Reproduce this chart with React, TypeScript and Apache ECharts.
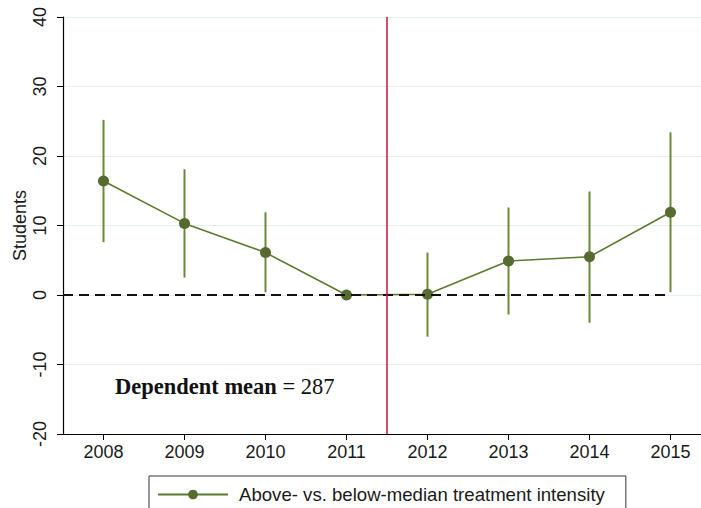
import React, { useEffect, useRef } from 'react';
import * as echarts from 'echarts';

// event-study estimates
const years = [2008, 2009, 2010, 2011, 2012, 2013, 2014, 2015];
const estimates = [16.4, 10.3, 6.1, 0, 0.1, 4.9, 5.5, 11.9];
const ciLow = [7.6, 2.5, 0.4, 0, -6.0, -2.8, -4.0, 0.4];
const ciHigh = [25.2, 18.1, 11.9, 0, 6.1, 12.6, 14.9, 23.4];
const yTicks = [-20, -10, 0, 10, 20, 30, 40];
const treatmentBreak = 2011.5;
const seriesName = 'Above- vs. below-median treatment intensity';
const dependentMean = 287;

const SANS = '"Liberation Sans", Arial, sans-serif';
const SERIF = '"Liberation Serif", "Times New Roman", serif';

const App = () => {
    const chartRef = useRef<HTMLDivElement>(null);

    useEffect(() => {
        document.body.style.margin = '0';
        const chart = echarts.init(chartRef.current, null, { renderer: 'svg' });

        const pointData = years.map((y, i) => [y, estimates[i]]);
        const barData = years
            .map((y, i) => [y, ciLow[i], ciHigh[i]])
            .filter((d) => d[1] !== d[2]);

        const option = {
            animation: false,
            backgroundColor: '#ffffff',
            grid: { left: 63, top: 17, width: 648, height: 417, outerBoundsMode: 'none', containLabel: false },
            xAxis: {
                type: 'value',
                min: years[0] - 0.5,
                max: years[years.length - 1] + 0.5,
                axisLine: { onZero: false, lineStyle: { color: '#000', width: 1.2 } },
                axisTick: { customValues: years, length: 6, lineStyle: { color: '#000' } },
                axisLabel: {
                    customValues: years,
                    formatter: (v: number) => String(v),
                    margin: 9,
                    color: '#1a1a1a',
                    fontSize: 18,
                    fontFamily: SANS,
                },
                splitLine: { show: false },
            },
            yAxis: {
                type: 'value',
                min: yTicks[0],
                max: yTicks[yTicks.length - 1],
                interval: 10,
                name: 'Students',
                nameLocation: 'middle',
                nameGap: 34,
                nameMoveOverlap: false,
                nameRotate: 90,
                nameTextStyle: { color: '#1a1a1a', fontSize: 18, fontFamily: SANS },
                axisLine: { show: true, lineStyle: { color: '#000', width: 1.2 } },
                axisTick: { show: true, length: 6, lineStyle: { color: '#000' } },
                axisLabel: {
                    rotate: 90,
                    margin: 14,
                    color: '#1a1a1a',
                    fontSize: 18,
                    fontFamily: SANS,
                },
                splitLine: { show: true, lineStyle: { color: '#e6eeef', width: 1 } },
            },
            legend: {
                data: [seriesName],
                left: 149,
                top: 476,
                padding: [9, 21, 14, 8],
                itemWidth: 70,
                itemHeight: 12,
                borderColor: '#333',
                borderWidth: 1,
                borderRadius: 0,
                backgroundColor: '#fff',
                textStyle: {
                    color: '#1a1a1a',
                    fontSize: 18.6,
                    fontFamily: SANS,
                    padding: [0, 0, 0, 6],
                },
            },
            graphic: [
                {
                    type: 'text',
                    left: 115,
                    top: 375,
                    style: {
                        text: '{b|Dependent mean} = ' + dependentMean,
                        fontFamily: SERIF,
                        fontSize: 22.5,
                        fill: '#111',
                        rich: {
                            b: { fontFamily: SERIF, fontSize: 22.5, fontWeight: 'bold', fill: '#111' },
                        },
                    },
                },
            ],
            series: [
                {
                    type: 'custom',
                    name: 'ci',
                    data: barData,
                    z: 2,
                    renderItem: (params: any, api: any) => {
                        const x = api.value(0);
                        const lo = api.coord([x, api.value(1)]);
                        const hi = api.coord([x, api.value(2)]);
                        return {
                            type: 'line',
                            shape: { x1: lo[0], y1: lo[1], x2: hi[0], y2: hi[1] },
                            style: { stroke: '#6a8a3a', lineWidth: 2 },
                        };
                    },
                },
                {
                    type: 'line',
                    name: seriesName,
                    data: pointData,
                    z: 3,
                    symbol: 'circle',
                    symbolSize: 11,
                    showSymbol: true,
                    lineStyle: { color: '#5b7b2f', width: 1.6 },
                    itemStyle: { color: '#556b2f' },
                    markLine: {
                        silent: true,
                        symbol: 'none',
                        label: { show: false },
                        data: [
                            [
                                { coord: [years[0] - 0.5, 0], lineStyle: { color: '#111', width: 2, type: [10, 6] } },
                                { coord: [years[years.length - 1], 0] },
                            ],
                            { xAxis: treatmentBreak, lineStyle: { color: '#c8143c', width: 1.5, type: 'solid' } },
                        ],
                    },
                },
            ],
        };

        chart.setOption(option);
        return () => {
            chart.dispose();
        };
    }, []);

    return <div ref={chartRef} style={{ width: '701px', height: '508px' }} />;
};

export default App;
